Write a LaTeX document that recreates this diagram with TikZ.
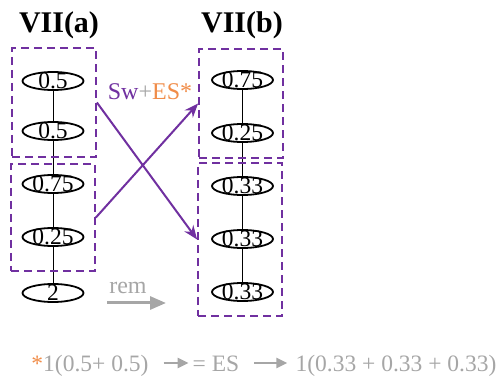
\documentclass[tikz,border=0pt]{standalone}
\usepackage{fontspec}
\setmainfont{Liberation Serif}
\usetikzlibrary{positioning, arrows.meta, shapes.geometric}

\definecolor{swpurple}{HTML}{7030A0}
\definecolor{esorange}{HTML}{F08C48}
\definecolor{remgray}{HTML}{A6A6A6}

\begin{document}
\begin{tikzpicture}[x=1pt, y=-1pt, node distance=53pt,
		val/.style={ellipse, draw=black, line width=1.8pt, minimum width=61pt, minimum height=18pt, inner sep=0pt,
			label={[font=\fontsize{23.5}{23.5}\selectfont, inner sep=0pt]center:#1}},
		grp/.style={rectangle, draw=swpurple, line width=1.8pt, dash pattern=on 8pt off 5pt, minimum width=84pt, inner sep=0pt},
		flow/.style={-{Stealth[length=14pt, width=11pt]}, draw=swpurple, line width=2pt},
		remarr/.style={-{Triangle[length=16pt, width=13pt]}, draw=remgray, line width=3pt},
		btmarr/.style={-{Triangle[length=11pt, width=10pt]}, draw=remgray, line width=2.5pt},
		ttl/.style={font=\fontsize{30}{36}\selectfont\bfseries, anchor=base, inner sep=0pt},
		btm/.style={font=\fontsize{23.5}{28}\selectfont, text=remgray, anchor=base, inner sep=0pt, text height=18pt, text depth=0pt}]

		\useasboundingbox (0,0) rectangle (499,377);

		\node[ttl] (TitleA) at (59,33) {VII(a)};
		\node[ttl] (TitleB) at (242,33) {VII(b)};

		% left chain
		\node[val=0.5] (A1) at (53,81) {};
		\node[val=0.5] (A2) [below of=A1, yshift=3pt] {};
		\node[val=0.75] (A3) [below of=A2] {};
		\node[val=0.25] (A4) [below of=A3] {};
		\node[val=2] (A5) [below of=A4, yshift=-3pt] {};

		% right chain
		\node[val=0.75] (B1) at (242.5,80) {};
		\node[val=0.25] (B2) [below of=B1] {};
		\node[val=0.33] (B3) [below of=B2] {};
		\node[val=0.33] (B4) [below of=B3] {};
		\node[val=0.33] (B5) [below of=B4] {};

		\draw[line width=1pt] (A1) -- (A2) -- (A3) -- (A4) -- (A5);
		\draw[line width=1pt] (B1) -- (B2) -- (B3) -- (B4) -- (B5);

		% dashed groups
		\node[grp, minimum height=109pt] (GrpA1) at (54,102.5) {};
		\node[grp, minimum height=107pt] (GrpA2) at (53,217.5) {};
		\node[grp, minimum height=109pt] (GrpB1) at (241,103.5) {};
		\node[grp, minimum height=153pt] (GrpB2) at (240,239.5) {};

		\draw[flow] (GrpA1.east) -- (GrpB2.west);
		\draw[flow] (GrpA2.east) -- (GrpB1.west);

		\node[font=\fontsize{24}{24}\selectfont] (SwLbl) at (150,92)
		{\textcolor{swpurple}{Sw}\textcolor{remgray}{+}\textcolor{esorange}{ES*}};

		\node[font=\fontsize{24}{24}\selectfont, text=remgray] (RemLbl) at (128,288) {rem};
		\coordinate (RemFrom) at (107,303);
		\coordinate (RemTo) at (166,303);
		\draw[remarr] (RemFrom) -- (RemTo);

		% bottom line
		\node[btm] (SumHalf) at (90,372) {\textcolor{esorange}{*}1(0.5+ 0.5)};
		\node[btm] (EqEs) at (216,372) {= ES};
		\node[btm] (SumThird) at (396,372) {1(0.33 + 0.33 + 0.33)};
		\draw[btmarr, shorten <=15pt, shorten >=4pt] (SumHalf.east) -- (EqEs.west);
		\draw[btmarr, shorten <=15pt, shorten >=8pt] (EqEs.east) -- (SumThird.west);

	\end{tikzpicture}
\end{document}
